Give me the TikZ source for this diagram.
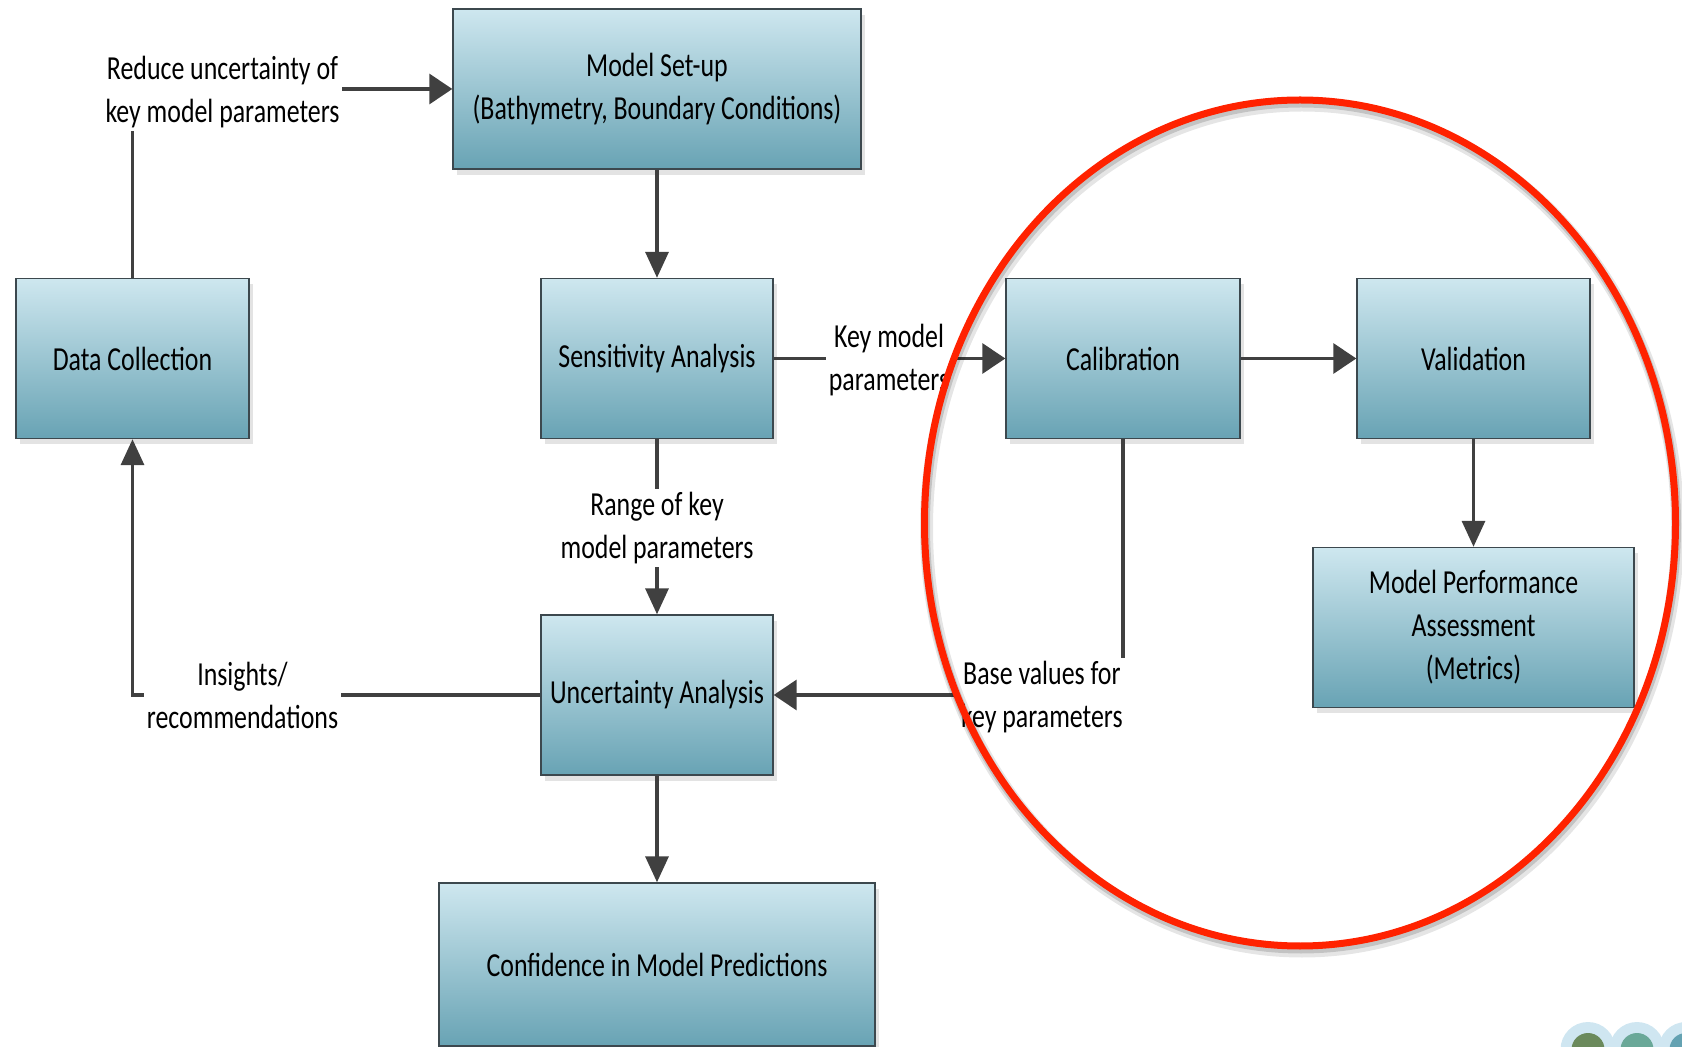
\documentclass[tikz,border=0pt]{standalone}
\usepackage{fontspec}
\setmainfont{Carlito}[FakeStretch=0.77]
\usetikzlibrary{arrows.meta,shadows}

\definecolor{boxtop}{RGB}{206,231,239}
\definecolor{boxbot}{RGB}{104,163,180}
\definecolor{boxline}{RGB}{60,72,78}
\definecolor{wire}{RGB}{64,64,64}
\definecolor{ring}{RGB}{255,34,0}
\definecolor{dotpale}{RGB}{207,230,241}
\definecolor{dotA}{RGB}{107,138,92}
\definecolor{dotB}{RGB}{106,168,152}
\definecolor{dotC}{RGB}{100,162,178}

\begin{document}
\begin{tikzpicture}[x=0.5pt,y=-0.5pt,
  font=\fontsize{16.8pt}{21.5pt}\selectfont,
  stage/.style={draw=boxline, line width=0.7pt, top color=boxtop,
    bottom color=boxbot, align=center, inner sep=0pt,
    minimum height=80pt,
    drop shadow={shadow xshift=2.2pt, shadow yshift=-3pt,
      fill=black!11, opacity=1}},
  lbl/.style={fill=white, align=center, inner sep=1.5pt},
  link/.style={draw=wire, line width=1.7pt},
  tipH/.style={-{Triangle[length=11.5pt,width=15pt]}},
  tipV/.style={-{Triangle[length=13pt,width=11.5pt]}}]

\useasboundingbox (0,0) rectangle (1682,1047);

% process boxes
\node[stage, minimum width=204pt] (setup) at (657,89)
  {Model Set-up\\(Bathymetry, Boundary Conditions)};
\node[stage, minimum width=116.5pt] (data) at (132.5,358.5) {Data Collection};
\node[stage, minimum width=116pt] (sens) at (657,358.5) {Sensitivity Analysis};
\node[stage, minimum width=117pt] (calib) at (1123,358.5) {Calibration};
\node[stage, minimum width=116.5pt] (valid) at (1473.5,358.5) {Validation};
\node[stage, minimum width=160.5pt] (mpa) at (1473.5,627.5)
  {Model Performance\\Assessment\\(Metrics)};
\node[stage, minimum width=116pt] (unc) at (657,695) {Uncertainty Analysis};
\node[stage, minimum width=218pt, minimum height=81.5pt] (conf) at (657,964.5)
  {Confidence in Model Predictions};

% connectors
\draw[link, tipH] (data.north) |- (setup.west);
\draw[link, tipV] (setup.south) -- (sens.north);
\draw[link, tipH] (sens.east) -- (calib.west);
\draw[link, tipH] (calib.east) -- (valid.west);
\draw[link, tipV] (valid.south) -- (mpa.north);
\draw[link, tipV] (sens.south) -- (unc.north);
\draw[link, tipH] (calib.south) |- (unc.east);
\draw[link, tipV] (unc.west) -| (data.south);
\draw[link, tipV] (unc.south) -- (conf.north);

% connector labels
\node[lbl] (lreduce) at (222.5,92) {Reduce uncertainty of\\key model parameters};
\node[lbl] (lkey) at (889,360) {Key model\\parameters};
\node[lbl] (lrange) at (657,528) {Range of key\\model parameters};
\node[lbl, anchor=east] (lbase) at (1126,697) {Base values for\\key parameters};
\node[lbl] (linsight) at (242.5,695) {Insights/\\recommendations};

% highlight ring with soft shadow
\draw[black, opacity=0.10, line width=6.5pt] (1302,528) ellipse [x radius=187.75pt, y radius=211.5pt];
\draw[black, opacity=0.15, line width=4.5pt] (1301,526) ellipse [x radius=187.75pt, y radius=211.5pt];
\draw[ring, line width=3.5pt] (1300,523) ellipse [x radius=187.75pt, y radius=211.5pt];

% corner logo
\begin{scope}
\clip (0,0) rectangle (1682,1047);
\foreach \cx/\col in {1588/dotA, 1637/dotB, 1686/dotC} {
  \fill[dotpale] (\cx,1049.5) circle [radius=13.75pt];
}
\foreach \cx/\col in {1588/dotA, 1637/dotB, 1686/dotC} {
  \fill[\col] (\cx,1049.5) circle [radius=8.25pt];
}
\end{scope}
\end{tikzpicture}
\end{document}
